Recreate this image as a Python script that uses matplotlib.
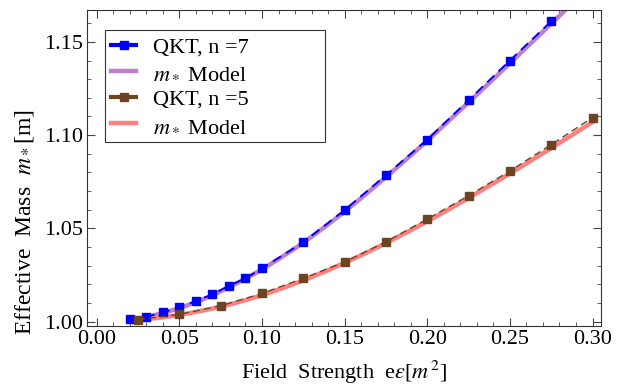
import matplotlib
matplotlib.use('Agg')
import matplotlib.pyplot as plt
from matplotlib.ticker import MultipleLocator

# QKT data, n = 7
x_n7 = [0.02, 0.03, 0.04, 0.05, 0.06, 0.07, 0.08, 0.09, 0.10,
        0.125, 0.15, 0.175, 0.20, 0.225, 0.25, 0.275]
y_n7 = [1.0012, 1.0026, 1.0049, 1.0076, 1.0110, 1.0146, 1.0192, 1.0232, 1.0285,
        1.0426, 1.0598, 1.0785, 1.0976, 1.1187, 1.1400, 1.1610]

# QKT data, n = 5
x_n5 = [0.025, 0.05, 0.075, 0.10, 0.125, 0.15, 0.175, 0.20, 0.225, 0.25, 0.275, 0.30]
y_n5 = [1.0010, 1.0039, 1.0085, 1.0151, 1.0232, 1.0320, 1.0428, 1.0550, 1.0675,
        1.0808, 1.0949, 1.1094]

# m* model curves
x_mod7 = [0.02, 0.03, 0.04, 0.05, 0.06, 0.07, 0.08, 0.09, 0.10, 0.11, 0.12, 0.13, 0.14,
          0.15, 0.16, 0.17, 0.18, 0.19, 0.20, 0.21, 0.22, 0.23, 0.24, 0.25, 0.26,
          0.27, 0.28, 0.285]
y_mod7 = [1.0010, 1.0024, 1.0046, 1.0072, 1.0104, 1.0141, 1.0184, 1.0230, 1.0280,
          1.0335, 1.0393, 1.0455, 1.0521, 1.0590, 1.0662, 1.0737, 1.0813, 1.0891,
          1.0970, 1.1052, 1.1134, 1.1217, 1.1301, 1.1385, 1.1470, 1.1555, 1.1640, 1.1683]
x_mod5 = [0.02, 0.03, 0.04, 0.05, 0.06, 0.07, 0.08, 0.09, 0.10, 0.11, 0.12, 0.13, 0.14,
          0.15, 0.16, 0.17, 0.18, 0.19, 0.20, 0.21, 0.22, 0.23, 0.24, 0.25, 0.26,
          0.27, 0.28, 0.29, 0.30]
y_mod5 = [1.0006, 1.0013, 1.0023, 1.0036, 1.0052, 1.0070, 1.0091, 1.0115, 1.0142,
          1.0172, 1.0204, 1.0239, 1.0276, 1.0315, 1.0356, 1.0399, 1.0444, 1.0490,
          1.0538, 1.0587, 1.0637, 1.0689, 1.0741, 1.0794, 1.0848, 1.0903, 1.0958,
          1.1014, 1.1070]

plt.rcParams['font.family'] = ['Liberation Serif', 'DejaVu Serif']
plt.rcParams['mathtext.fontset'] = 'stix'

fig = plt.figure(figsize=(6.2, 3.91), dpi=100)
ax = fig.add_axes([0.140, 0.166, 0.829, 0.808])

ax.plot(x_mod7, y_mod7, color='#C080C8', lw=3.2, zorder=2)
ax.plot(x_n7, y_n7, color='#0000FF', ls=(0, (5, 3)), lw=1.4, marker='s', ms=6, zorder=3)
ax.plot(x_mod5, y_mod5, color='#FF7F7F', lw=3.2, zorder=2)
ax.plot(x_n5, y_n5, color='#6B4522', ls=(0, (5, 3)), lw=1.0, marker='s', ms=6, zorder=3)

h7 = plt.Line2D([], [], color='#0000FF', lw=3, marker='s', ms=6)
hm7 = plt.Line2D([], [], color='#C080C8', lw=3.2)
h5 = plt.Line2D([], [], color='#6B4522', lw=3, marker='s', ms=6)
hm5 = plt.Line2D([], [], color='#FF7F7F', lw=3.2)
leg = ax.legend([h7, hm7, h5, hm5],
                ['QKT, n =7', r'$m_*$ Model', 'QKT, n =5', r'$m_*$ Model'],
                loc='upper left', bbox_to_anchor=(0.035, 0.595, 0.428, 0.342),
                mode='expand', borderaxespad=0, fontsize=16,
                frameon=True, fancybox=False, handlelength=1.1, borderpad=0.3,
                labelspacing=0.25, handletextpad=0.75)
leg.get_frame().set_edgecolor('black')
leg.get_frame().set_linewidth(0.8)

ax.set_xlim(-0.006, 0.305)
ax.set_ylim(0.9976, 1.167)
ax.xaxis.set_major_locator(MultipleLocator(0.05))
ax.xaxis.set_minor_locator(MultipleLocator(0.01))
ax.yaxis.set_major_locator(MultipleLocator(0.05))
ax.yaxis.set_minor_locator(MultipleLocator(0.01))
ax.xaxis.set_major_formatter(plt.FormatStrFormatter('%.2f'))
ax.yaxis.set_major_formatter(plt.FormatStrFormatter('%.2f'))
ax.tick_params(which='both', direction='in', top=True, right=True, labelsize=16,
               color='#444444', pad=3)
ax.tick_params(which='major', length=6)
ax.tick_params(which='minor', length=3)
for s in ax.spines.values():
    s.set_color('#333333')

ax.set_xlabel(r'Field  Strength  e$\varepsilon$[$m^{\,2}$]', fontsize=16)
ax.set_ylabel(r'Effective  Mass  $m_*$[m]', fontsize=17)
ax.xaxis.set_label_coords(0.5, -0.105)
ax.yaxis.set_label_coords(-0.098, 0.33)

fig.savefig('out.png', dpi=100)
